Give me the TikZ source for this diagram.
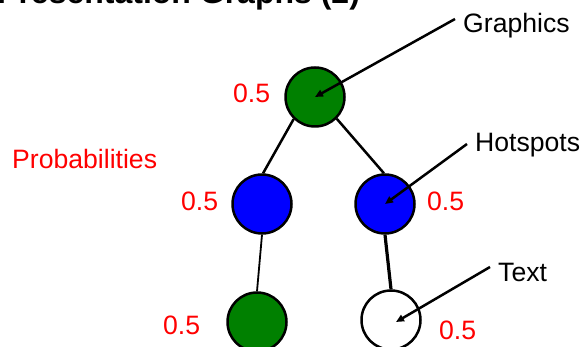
\documentclass[tikz,border=0pt]{standalone}
\usepackage{fontspec}
\setmainfont{Liberation Sans}
\usetikzlibrary{arrows.meta}
\definecolor{dgreen}{HTML}{008000}
\definecolor{pblue}{HTML}{0000FF}
\definecolor{pred}{HTML}{FF0000}
\begin{document}
\begin{tikzpicture}[x=1pt,y=-1pt,
  vert/.style={circle,draw=black,line width=2.5pt,minimum size=59pt,inner sep=0pt},
  prob/.style={text=pred,anchor=base west,inner sep=0pt,font=\fontsize{26.6}{30}\selectfont},
  lbl/.style={text=black,anchor=base west,inner sep=0pt,font=\fontsize{26.6}{30}\selectfont},
  edge/.style={line width=2.5pt},
  pointer/.style={line width=2.5pt,-{Triangle[length=8pt,width=7pt]}}]
\useasboundingbox (0,0) rectangle (586,347);
\clip (0,0) rectangle (586,347);
\fill[white] (0,0) rectangle (586,347);
% title
\node[anchor=base west,inner sep=0pt,font=\fontsize{32}{36}\selectfont\bfseries] (title) at (-3,4) {Presentation Graphs (2)};
% vertices
\node[vert,fill=dgreen] (g1) at (315,97) {};
\node[vert,fill=pblue] (b1) at (262,204) {};
\node[vert,fill=pblue] (b2) at (385,204) {};
\node[vert,fill=dgreen] (g2) at (257,322) {};
\node[vert,fill=white] (w) at (391,320) {};
% edges
\draw[edge] (g1.226) -- (b1.88);
\draw[edge] (g1.-45) -- (b2.92);
\draw[line width=1.8pt] (b1.south) -- (g2.north);
\draw[line width=3.2pt] (b2.south) -- (w.north);
% probabilities
\node[prob] (p0) at (233,103) {0.5};
\node[prob] (p1) at (181,211) {0.5};
\node[prob] (p2) at (427,211) {0.5};
\node[prob] (p3) at (163,334) {0.5};
\node[prob] (p4) at (439,339) {0.5};
\node[prob] (probs) at (12,169) {Probabilities};
% labels
\node[lbl] (lg) at (463,33) {Graphics};
\node[lbl] (lh) at (475,152) {Hotspots};
\node[lbl] (lt) at (498,282) {Text};
\coordinate (ag) at (455,19);
\coordinate (ah) at (467,144);
\coordinate (at) at (490,267);
\draw[pointer] (ag) -- (g1.center);
\draw[pointer] (ah) -- (b2.center);
\draw[pointer] (at) -- ([xshift=5pt,yshift=-2pt]w.center);
\end{tikzpicture}
\end{document}
